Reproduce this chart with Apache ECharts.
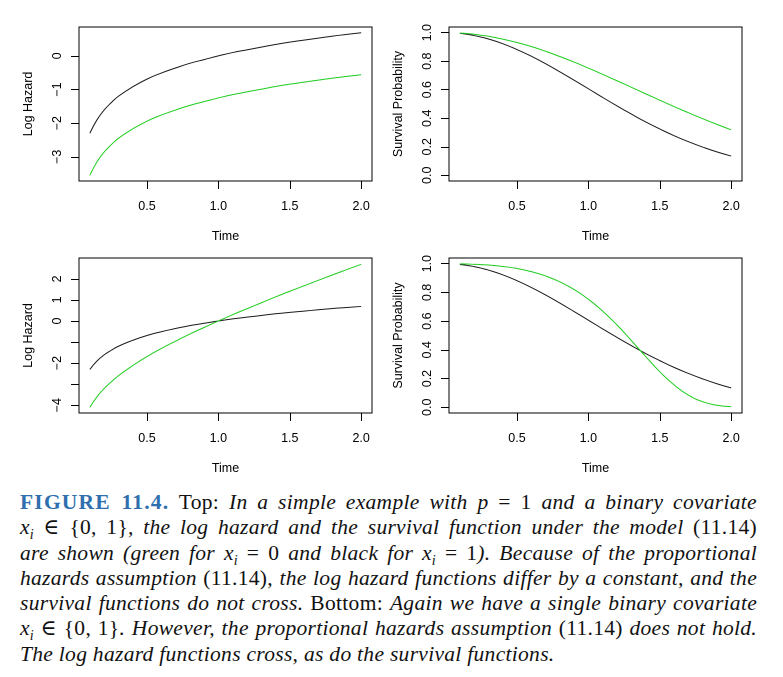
<!DOCTYPE html>
<html>
<head>
<meta charset="utf-8">
<script src="https://cdn.jsdelivr.net/npm/echarts@6.0.0/dist/echarts.min.js"></script>
<style>
  html, body { margin: 0; padding: 0; background: #fff; }
  #main { position: absolute; left: 0; top: 0; width: 783px; height: 480px; }
  #caption {
    position: absolute; left: 20px; top: 490px; width: 737px;
    font-family: "Liberation Serif", "DejaVu Serif", serif;
    font-size: 21.5px; line-height: 25.3px; color: #111; letter-spacing: 0.3px;
  }
  #caption div { text-align: justify; text-align-last: justify; }
  #caption div.last { text-align-last: left; }
  #caption .fig { color: #2f6fae; font-weight: bold; letter-spacing: 1.2px; }
  #caption sub { font-size: 14px; line-height: 0; }
</style>
</head>
<body>
<div id="main"></div>
<div id="caption">
  <div><span class="fig">FIGURE 11.4.</span> Top: <i>In a simple example with p</i> = 1 <i>and a binary covariate</i></div>
  <div><i>x<sub>i</sub></i> ∈ {0, 1}<i>, the log hazard and the survival function under the model</i> (11.14)</div>
  <div><i>are shown (green for x<sub>i</sub></i> = 0 <i>and black for x<sub>i</sub></i> = 1<i>). Because of the proportional</i></div>
  <div><i>hazards assumption</i> (11.14)<i>, the log hazard functions differ by a constant, and the</i></div>
  <div><i>survival functions do not cross.</i> Bottom: <i>Again we have a single binary covariate</i></div>
  <div><i>x<sub>i</sub></i> ∈ {0, 1}<i>. However, the proportional hazards assumption</i> (11.14) <i>does not hold.</i></div>
  <div class="last"><i>The log hazard functions cross, as do the survival functions.</i></div>
</div>
<script>
// values
var times = [0.1, 0.15, 0.2, 0.25, 0.3, 0.4, 0.5, 0.6, 0.7, 0.8, 0.9, 1.0, 1.1, 1.2, 1.3, 1.4, 1.5, 1.6, 1.7, 1.8, 1.9, 2.0];

var topHazardBlack = [-2.30, -1.90, -1.61, -1.39, -1.20, -0.92, -0.69, -0.51, -0.36, -0.22, -0.11, 0.00, 0.10, 0.18, 0.26, 0.34, 0.41, 0.47, 0.53, 0.59, 0.64, 0.69];
var topHazardGreen = [-3.55, -3.15, -2.86, -2.64, -2.45, -2.17, -1.94, -1.76, -1.61, -1.47, -1.36, -1.25, -1.15, -1.07, -0.99, -0.91, -0.84, -0.78, -0.72, -0.66, -0.61, -0.56];
var topSurvBlack = [0.995, 0.989, 0.980, 0.969, 0.956, 0.923, 0.882, 0.835, 0.783, 0.726, 0.667, 0.607, 0.546, 0.487, 0.430, 0.375, 0.325, 0.278, 0.236, 0.198, 0.164, 0.135];
var topSurvGreen = [0.997, 0.994, 0.989, 0.982, 0.975, 0.955, 0.931, 0.903, 0.870, 0.833, 0.794, 0.752, 0.708, 0.663, 0.618, 0.572, 0.527, 0.482, 0.439, 0.397, 0.357, 0.319];

var botHazardBlack = [-2.30, -1.90, -1.61, -1.39, -1.20, -0.92, -0.69, -0.51, -0.36, -0.22, -0.11, 0.00, 0.10, 0.18, 0.26, 0.34, 0.41, 0.47, 0.53, 0.59, 0.64, 0.69];
var botHazardGreen = [-4.10, -3.60, -3.21, -2.89, -2.60, -2.12, -1.69, -1.31, -0.96, -0.62, -0.31, 0.00, 0.30, 0.58, 0.86, 1.14, 1.41, 1.67, 1.93, 2.19, 2.44, 2.69];
var botSurvBlack = [0.995, 0.989, 0.980, 0.969, 0.956, 0.923, 0.882, 0.835, 0.783, 0.726, 0.667, 0.607, 0.546, 0.487, 0.430, 0.375, 0.325, 0.278, 0.236, 0.198, 0.164, 0.135];
var botSurvGreen = [0.999, 0.998, 0.996, 0.994, 0.991, 0.981, 0.967, 0.945, 0.915, 0.874, 0.821, 0.753, 0.670, 0.574, 0.466, 0.355, 0.248, 0.156, 0.085, 0.039, 0.014, 0.004];

var xTicks = [0.5, 1.0, 1.5, 2.0];
var topHazardTicks = [-3, -2, -1, 0];
var botHazardTicks = [-4, -3, -2, -1, 0, 1, 2];
var botHazardLabels = [-4, -2, 0, 1, 2];
var survTicks = [0, 0.2, 0.4, 0.6, 0.8, 1.0];

var BLACK = '#1a1a1a';
var GREEN = '#1fcc1f';
var FONT = 'Liberation Sans';

function pairs(ys) {
  return times.map(function (t, i) { return [t, ys[i]]; });
}

function minus(v) {
  return v < 0 ? '\u2212' + Math.abs(v) : String(v);
}

function makeX(idx) {
  return {
    gridIndex: idx, type: 'value', min: 0.024, max: 2.076,
    name: 'Time', nameLocation: 'middle', nameGap: 49,
    nameTextStyle: { fontFamily: FONT, fontSize: 12.5, color: '#000' },
    axisLine: { show: false, onZero: false },
    splitLine: { show: false },
    axisTick: { show: true, length: 8, customValues: xTicks, lineStyle: { color: '#000', width: 1 } },
    axisLabel: { customValues: xTicks, margin: 19, fontFamily: FONT, fontSize: 12.5, color: '#000',
      formatter: function (v) { return v.toFixed(1); } }
  };
}

function makeY(idx, name, min, max, ticks, labels, fmt) {
  return {
    gridIndex: idx, type: 'value', min: min, max: max,
    name: name, nameLocation: 'middle', nameGap: 44,
    nameTextStyle: { fontFamily: FONT, fontSize: 12.5, color: '#000' },
    axisLine: { show: false, onZero: false },
    splitLine: { show: false },
    axisTick: { show: true, length: 8, customValues: ticks, lineStyle: { color: '#000', width: 1 } },
    axisLabel: { customValues: labels, rotate: 90, margin: 15, fontFamily: FONT, fontSize: 12.5, color: '#000',
      formatter: fmt }
  };
}

function line(idx, ys, color) {
  return {
    type: 'line', xAxisIndex: idx, yAxisIndex: idx, data: pairs(ys),
    showSymbol: false, smooth: 0.5,
    lineStyle: { color: color, width: 1 }, silent: true
  };
}

var gridBase = { show: true, borderColor: '#000', borderWidth: 1, backgroundColor: 'transparent' };

var chart = echarts.init(document.getElementById('main'), null, { devicePixelRatio: 2 });
chart.setOption({
  animation: false,
  grid: [
    Object.assign({ left: 79, top: 27, width: 293, height: 154 }, gridBase),
    Object.assign({ left: 449, top: 27, width: 293, height: 154 }, gridBase),
    Object.assign({ left: 79, top: 258, width: 293, height: 155 }, gridBase),
    Object.assign({ left: 449, top: 258, width: 293, height: 155 }, gridBase)
  ],
  xAxis: [makeX(0), makeX(1), makeX(2), makeX(3)],
  yAxis: [
    makeY(0, 'Log Hazard', -3.72, 0.86, topHazardTicks, topHazardTicks, minus),
    makeY(1, 'Survival Probability', -0.04, 1.04, survTicks, survTicks, function (v) { return v.toFixed(1); }),
    makeY(2, 'Log Hazard', -4.37, 2.99, botHazardTicks, botHazardLabels, minus),
    makeY(3, 'Survival Probability', -0.04, 1.04, survTicks, survTicks, function (v) { return v.toFixed(1); })
  ],
  series: [
    line(0, topHazardBlack, BLACK),
    line(0, topHazardGreen, GREEN),
    line(1, topSurvBlack, BLACK),
    line(1, topSurvGreen, GREEN),
    line(2, botHazardBlack, BLACK),
    line(2, botHazardGreen, GREEN),
    line(3, botSurvBlack, BLACK),
    line(3, botSurvGreen, GREEN)
  ]
});
</script>
</body>
</html>
